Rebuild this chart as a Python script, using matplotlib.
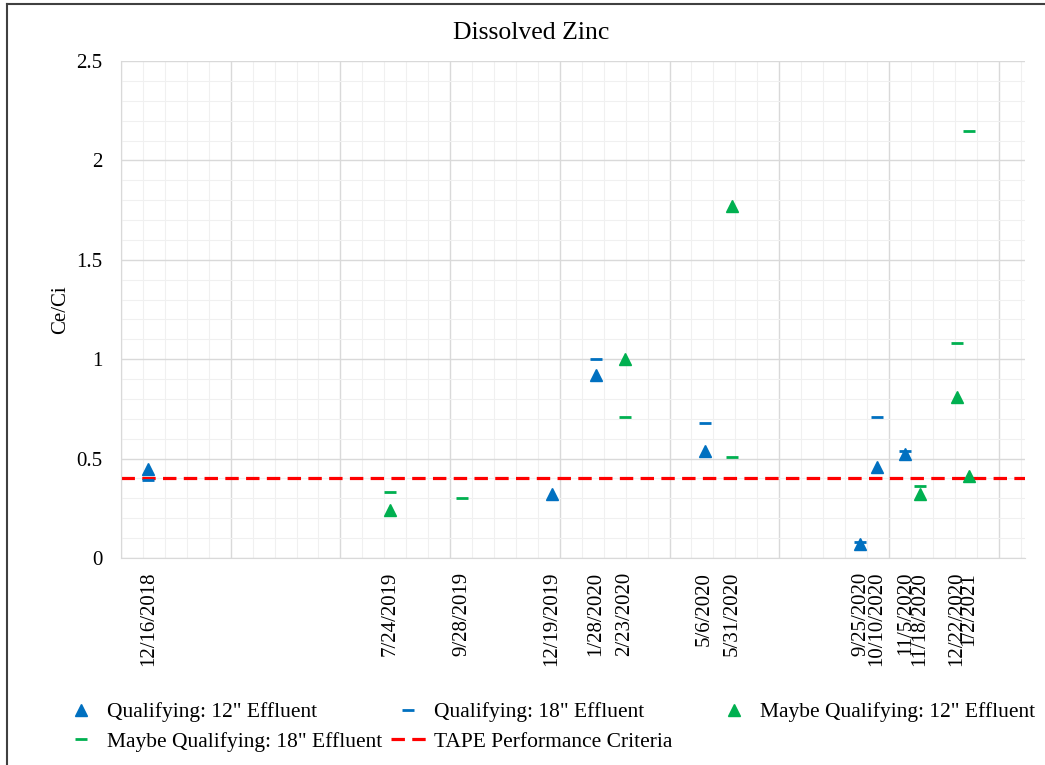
import numpy as np
import pandas as pd
import matplotlib
matplotlib.use("Agg")
import matplotlib.pyplot as plt
import matplotlib.dates as mdates
from matplotlib.lines import Line2D

plt.rcParams['font.family'] = ['Liberation Serif', 'DejaVu Serif']

# sample dates shown as x tick labels
tick_dates = ['12/16/2018', '7/24/2019', '9/28/2019', '12/19/2019', '1/28/2020',
              '2/23/2020', '5/6/2020', '5/31/2020', '9/25/2020', '10/10/2020',
              '11/5/2020', '11/18/2020', '12/22/2020', '1/2/2021']

# Qualifying: 12" Effluent
q12_dates = ['12/16/2018', '12/19/2019', '1/28/2020', '5/6/2020', '9/25/2020', '10/10/2020', '11/5/2020']
q12_vals = [0.45, 0.32, 0.92, 0.54, 0.07, 0.46, 0.525]

# Qualifying: 18" Effluent
q18_dates = ['12/16/2018', '1/28/2020', '5/6/2020', '9/25/2020', '10/10/2020', '11/5/2020']
q18_vals = [0.39, 1.0, 0.68, 0.08, 0.71, 0.54]

# Maybe Qualifying: 12" Effluent
m12_dates = ['7/24/2019', '2/23/2020', '5/31/2020', '11/18/2020', '12/22/2020', '1/2/2021']
m12_vals = [0.24, 1.0, 1.77, 0.32, 0.81, 0.41]

# Maybe Qualifying: 18" Effluent
m18_dates = ['7/24/2019', '9/28/2019', '2/23/2020', '5/31/2020', '11/18/2020', '12/22/2020', '1/2/2021']
m18_vals = [0.33, 0.30, 0.71, 0.51, 0.36, 1.08, 2.15]

tape_criteria = 0.4

x_start = '11/21/2018'
x_end = '2/22/2021'

BLUE = '#0070C0'
GREEN = '#00B050'
RED = '#FF0000'


def to_num(d):
    return mdates.date2num(pd.to_datetime(d, format='%m/%d/%Y'))


fig = plt.figure(figsize=(10.45, 7.65), dpi=100)
ax = fig.add_axes([121 / 1045, 1 - 558 / 765, 904 / 1045, 497 / 765])

x0 = to_num(x_start)
x1 = to_num(x_end)
ax.set_xlim(x0, x1)
ax.set_ylim(0, 2.5)

# grid (Excel style: major every 100 days, minor every 20 days)
for xv in np.arange(x0, x1 + 1, 20):
    is_major = (xv - x0) % 100 == 0
    ax.axvline(xv, color='#d9d9d9' if is_major else '#f0f0f0',
               lw=1.0 if is_major else 0.8, zorder=0)
ax.set_yticks(np.arange(0, 2.51, 0.5))
ax.set_yticks(np.arange(0, 2.51, 0.1), minor=True)
ax.grid(True, axis='y', which='major', color='#d9d9d9', lw=1.0, zorder=0)
ax.grid(True, axis='y', which='minor', color='#f0f0f0', lw=0.8, zorder=0)
ax.set_axisbelow(True)

for s in ['top', 'right']:
    ax.spines[s].set_visible(False)
for s in ['left', 'bottom']:
    ax.spines[s].set_color('#d9d9d9')

ax.set_xticks(to_num(tick_dates))
ax.set_xticklabels(tick_dates, rotation=90, fontsize=15)
ax.tick_params(axis='x', length=0, pad=10)
ax.tick_params(axis='y', which='both', length=0, pad=13.5, labelsize=15)
ax.set_yticklabels(['0', '0.5', '1', '1.5', '2', '2.5'])

ax.set_ylabel('Ce/Ci', fontsize=15)
ax.yaxis.set_label_coords(-0.056, 0.5)

# data
ax.plot(to_num(q12_dates), q12_vals, ls='none', marker='^', ms=9, color=BLUE,
        label='Qualifying: 12" Effluent', zorder=3)
ax.plot(to_num(q18_dates), q18_vals, ls='none', marker='_', ms=9, mew=2, color=BLUE,
        label='Qualifying: 18" Effluent', zorder=3)
ax.plot(to_num(m12_dates), m12_vals, ls='none', marker='^', ms=9, color=GREEN,
        label='Maybe Qualifying: 12" Effluent', zorder=3)
ax.plot(to_num(m18_dates), m18_vals, ls='none', marker='_', ms=9, mew=2, color=GREEN,
        label='Maybe Qualifying: 18" Effluent', zorder=3)
tape = ax.axhline(tape_criteria, color=RED, lw=2.3, dashes=(4.2, 2.3),
                  label='TAPE Performance Criteria', zorder=2)

fig.text(0.508, 1 - 39 / 765, 'Dissolved Zinc', fontsize=18.5, ha='center', va='baseline')

# legend: Excel lays the 5 entries out in 3 equal columns
h, l = ax.get_legend_handles_labels()
order = [0, 3, 1, 4]
leg_kw = dict(frameon=False, fontsize=15.5, handlelength=1.6, handletextpad=0.4,
              labelspacing=0.44, borderpad=0, borderaxespad=0, numpoints=1)
leg1 = fig.legend([h[i] for i in order], [l[i] for i in order], ncol=2,
                  loc='upper left', bbox_to_anchor=(64 / 1045, 1 - 702 / 765),
                  columnspacing=0.41, **leg_kw)
leg2 = fig.legend([h[2]], [l[2]], loc='upper left',
                  bbox_to_anchor=(717 / 1045, 1 - 702 / 765), **leg_kw)

# outer border (top and left visible in the screenshot)
fig.add_artist(Line2D([7 / 1045, 1], [1 - 4 / 765, 1 - 4 / 765], color='#404040', lw=1.5))
fig.add_artist(Line2D([7 / 1045, 7 / 1045], [0, 1 - 4 / 765], color='#404040', lw=1.5))

fig.savefig('out.png', dpi=100)
